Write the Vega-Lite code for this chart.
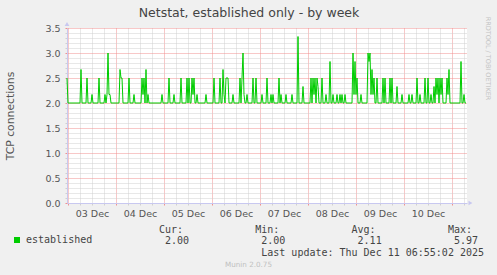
{
  "$schema": "https://vega.github.io/schema/vega-lite/v6.json",
  "width": 400,
  "height": 175,
  "autosize": "none",
  "padding": {"left": 67, "top": 28, "right": 30, "bottom": 72},
  "background": "#f0f0f0",
  "config": {
    "view": {"fill": "#ffffff", "stroke": null},
    "axis": {"labelFont": "DejaVu Sans", "titleFont": "DejaVu Sans"}
  },
  "title": {
    "text": "Netstat, established only - by week",
    "font": "DejaVu Sans",
    "fontSize": 12.5,
    "fontWeight": "normal",
    "color": "#444444",
    "anchor": "middle",
    "dx": -18,
    "dy": 3,
    "offset": 0
  },
  "data": {
    "values": [
      {"t": "2025-12-02T23:30", "v": 2.5},
      {"t": "2025-12-03T00:00", "v": 2},
      {"t": "2025-12-03T06:00", "v": 2},
      {"t": "2025-12-03T06:30", "v": 2.67},
      {"t": "2025-12-03T07:00", "v": 2},
      {"t": "2025-12-03T09:00", "v": 2},
      {"t": "2025-12-03T09:30", "v": 2.5},
      {"t": "2025-12-03T10:00", "v": 2},
      {"t": "2025-12-03T11:30", "v": 2},
      {"t": "2025-12-03T12:00", "v": 2.17},
      {"t": "2025-12-03T12:30", "v": 2},
      {"t": "2025-12-03T15:00", "v": 2},
      {"t": "2025-12-03T15:30", "v": 2.5},
      {"t": "2025-12-03T16:00", "v": 2},
      {"t": "2025-12-03T18:00", "v": 2},
      {"t": "2025-12-03T18:30", "v": 2.17},
      {"t": "2025-12-03T19:00", "v": 2},
      {"t": "2025-12-03T19:30", "v": 2.17},
      {"t": "2025-12-03T20:00", "v": 3},
      {"t": "2025-12-03T20:30", "v": 2.17},
      {"t": "2025-12-03T21:00", "v": 2.17},
      {"t": "2025-12-03T21:30", "v": 2},
      {"t": "2025-12-04T01:30", "v": 2},
      {"t": "2025-12-04T02:00", "v": 2.67},
      {"t": "2025-12-04T02:30", "v": 2.5},
      {"t": "2025-12-04T03:00", "v": 2.5},
      {"t": "2025-12-04T03:30", "v": 2},
      {"t": "2025-12-04T06:00", "v": 2},
      {"t": "2025-12-04T06:30", "v": 2.5},
      {"t": "2025-12-04T07:00", "v": 2},
      {"t": "2025-12-04T08:30", "v": 2},
      {"t": "2025-12-04T09:00", "v": 2.17},
      {"t": "2025-12-04T09:30", "v": 2},
      {"t": "2025-12-04T12:30", "v": 2},
      {"t": "2025-12-04T13:00", "v": 2.5},
      {"t": "2025-12-04T13:30", "v": 2.17},
      {"t": "2025-12-04T14:00", "v": 2.5},
      {"t": "2025-12-04T14:30", "v": 2},
      {"t": "2025-12-04T15:00", "v": 2.67},
      {"t": "2025-12-04T15:30", "v": 2},
      {"t": "2025-12-04T16:00", "v": 2.17},
      {"t": "2025-12-04T16:30", "v": 2},
      {"t": "2025-12-04T22:30", "v": 2},
      {"t": "2025-12-04T23:00", "v": 2.17},
      {"t": "2025-12-04T23:30", "v": 2},
      {"t": "2025-12-05T02:00", "v": 2},
      {"t": "2025-12-05T02:30", "v": 2.5},
      {"t": "2025-12-05T03:00", "v": 2},
      {"t": "2025-12-05T04:30", "v": 2},
      {"t": "2025-12-05T05:00", "v": 2.17},
      {"t": "2025-12-05T05:30", "v": 2},
      {"t": "2025-12-05T08:00", "v": 2},
      {"t": "2025-12-05T08:30", "v": 2.5},
      {"t": "2025-12-05T09:00", "v": 2},
      {"t": "2025-12-05T11:00", "v": 2},
      {"t": "2025-12-05T11:30", "v": 2.5},
      {"t": "2025-12-05T12:00", "v": 2},
      {"t": "2025-12-05T12:30", "v": 2.5},
      {"t": "2025-12-05T13:00", "v": 2},
      {"t": "2025-12-05T13:30", "v": 2},
      {"t": "2025-12-05T14:00", "v": 2.5},
      {"t": "2025-12-05T14:30", "v": 2.17},
      {"t": "2025-12-05T15:00", "v": 2.5},
      {"t": "2025-12-05T15:30", "v": 2},
      {"t": "2025-12-05T16:00", "v": 2},
      {"t": "2025-12-05T16:30", "v": 2.17},
      {"t": "2025-12-05T17:00", "v": 2},
      {"t": "2025-12-05T20:30", "v": 2},
      {"t": "2025-12-05T21:00", "v": 2.17},
      {"t": "2025-12-05T21:30", "v": 2},
      {"t": "2025-12-06T00:30", "v": 2},
      {"t": "2025-12-06T01:00", "v": 2.5},
      {"t": "2025-12-06T01:30", "v": 2},
      {"t": "2025-12-06T03:30", "v": 2},
      {"t": "2025-12-06T04:00", "v": 2.5},
      {"t": "2025-12-06T04:30", "v": 2},
      {"t": "2025-12-06T05:00", "v": 2},
      {"t": "2025-12-06T05:30", "v": 2.67},
      {"t": "2025-12-06T06:00", "v": 2.17},
      {"t": "2025-12-06T06:30", "v": 2},
      {"t": "2025-12-06T07:00", "v": 2.5},
      {"t": "2025-12-06T07:30", "v": 2.5},
      {"t": "2025-12-06T08:00", "v": 2.5},
      {"t": "2025-12-06T08:30", "v": 2},
      {"t": "2025-12-06T10:00", "v": 2},
      {"t": "2025-12-06T10:30", "v": 2.17},
      {"t": "2025-12-06T11:00", "v": 2},
      {"t": "2025-12-06T13:30", "v": 2},
      {"t": "2025-12-06T14:00", "v": 2.5},
      {"t": "2025-12-06T14:30", "v": 2},
      {"t": "2025-12-06T15:00", "v": 2.5},
      {"t": "2025-12-06T15:30", "v": 3},
      {"t": "2025-12-06T16:00", "v": 2.17},
      {"t": "2025-12-06T16:30", "v": 2},
      {"t": "2025-12-06T17:00", "v": 2},
      {"t": "2025-12-06T17:30", "v": 2.17},
      {"t": "2025-12-06T18:00", "v": 2},
      {"t": "2025-12-06T20:00", "v": 2},
      {"t": "2025-12-06T20:30", "v": 2.5},
      {"t": "2025-12-06T21:00", "v": 2},
      {"t": "2025-12-06T21:30", "v": 2},
      {"t": "2025-12-06T22:00", "v": 2.5},
      {"t": "2025-12-06T22:30", "v": 2},
      {"t": "2025-12-07T00:30", "v": 2},
      {"t": "2025-12-07T01:00", "v": 2.17},
      {"t": "2025-12-07T01:30", "v": 2},
      {"t": "2025-12-07T03:00", "v": 2},
      {"t": "2025-12-07T03:30", "v": 2.5},
      {"t": "2025-12-07T04:00", "v": 2},
      {"t": "2025-12-07T05:00", "v": 2},
      {"t": "2025-12-07T05:30", "v": 2.17},
      {"t": "2025-12-07T06:00", "v": 2},
      {"t": "2025-12-07T06:30", "v": 2.17},
      {"t": "2025-12-07T07:00", "v": 2},
      {"t": "2025-12-07T09:00", "v": 2},
      {"t": "2025-12-07T09:30", "v": 2.5},
      {"t": "2025-12-07T10:00", "v": 2},
      {"t": "2025-12-07T10:30", "v": 2.17},
      {"t": "2025-12-07T11:00", "v": 2},
      {"t": "2025-12-07T12:30", "v": 2},
      {"t": "2025-12-07T13:00", "v": 2.17},
      {"t": "2025-12-07T13:30", "v": 2},
      {"t": "2025-12-07T15:30", "v": 2},
      {"t": "2025-12-07T16:00", "v": 2.17},
      {"t": "2025-12-07T16:30", "v": 2},
      {"t": "2025-12-07T18:30", "v": 2},
      {"t": "2025-12-07T19:00", "v": 3.33},
      {"t": "2025-12-07T19:30", "v": 2},
      {"t": "2025-12-07T21:00", "v": 2},
      {"t": "2025-12-07T21:30", "v": 2.33},
      {"t": "2025-12-07T22:00", "v": 2},
      {"t": "2025-12-08T01:00", "v": 2},
      {"t": "2025-12-08T01:30", "v": 2.5},
      {"t": "2025-12-08T02:00", "v": 2},
      {"t": "2025-12-08T02:30", "v": 2.5},
      {"t": "2025-12-08T03:00", "v": 2.17},
      {"t": "2025-12-08T03:30", "v": 2.5},
      {"t": "2025-12-08T04:00", "v": 2},
      {"t": "2025-12-08T04:30", "v": 2.5},
      {"t": "2025-12-08T05:00", "v": 2.33},
      {"t": "2025-12-08T05:30", "v": 2},
      {"t": "2025-12-08T06:30", "v": 2},
      {"t": "2025-12-08T07:00", "v": 2.5},
      {"t": "2025-12-08T07:30", "v": 2},
      {"t": "2025-12-08T08:30", "v": 2},
      {"t": "2025-12-08T09:00", "v": 2.17},
      {"t": "2025-12-08T09:30", "v": 2},
      {"t": "2025-12-08T10:30", "v": 2},
      {"t": "2025-12-08T11:00", "v": 2.83},
      {"t": "2025-12-08T11:30", "v": 2},
      {"t": "2025-12-08T12:00", "v": 2},
      {"t": "2025-12-08T12:30", "v": 2.17},
      {"t": "2025-12-08T13:00", "v": 2},
      {"t": "2025-12-08T14:00", "v": 2},
      {"t": "2025-12-08T14:30", "v": 2.17},
      {"t": "2025-12-08T15:00", "v": 2},
      {"t": "2025-12-08T15:30", "v": 2},
      {"t": "2025-12-08T16:00", "v": 2.17},
      {"t": "2025-12-08T16:30", "v": 2},
      {"t": "2025-12-08T17:00", "v": 2.17},
      {"t": "2025-12-08T17:30", "v": 2},
      {"t": "2025-12-08T18:00", "v": 2},
      {"t": "2025-12-08T18:30", "v": 2.17},
      {"t": "2025-12-08T19:00", "v": 2},
      {"t": "2025-12-08T22:00", "v": 2},
      {"t": "2025-12-08T22:30", "v": 3},
      {"t": "2025-12-08T23:00", "v": 2.17},
      {"t": "2025-12-08T23:30", "v": 2.83},
      {"t": "2025-12-09T00:00", "v": 2.17},
      {"t": "2025-12-09T00:30", "v": 2.5},
      {"t": "2025-12-09T01:00", "v": 2},
      {"t": "2025-12-09T02:00", "v": 2},
      {"t": "2025-12-09T02:30", "v": 2.17},
      {"t": "2025-12-09T03:00", "v": 2},
      {"t": "2025-12-09T05:30", "v": 2},
      {"t": "2025-12-09T06:00", "v": 3},
      {"t": "2025-12-09T06:30", "v": 2.83},
      {"t": "2025-12-09T07:00", "v": 3},
      {"t": "2025-12-09T07:30", "v": 2.17},
      {"t": "2025-12-09T08:00", "v": 2.67},
      {"t": "2025-12-09T08:30", "v": 2.17},
      {"t": "2025-12-09T09:00", "v": 2.5},
      {"t": "2025-12-09T09:30", "v": 2},
      {"t": "2025-12-09T10:00", "v": 2},
      {"t": "2025-12-09T10:30", "v": 2.5},
      {"t": "2025-12-09T11:00", "v": 2},
      {"t": "2025-12-09T13:00", "v": 2},
      {"t": "2025-12-09T13:30", "v": 2.5},
      {"t": "2025-12-09T14:00", "v": 2},
      {"t": "2025-12-09T14:30", "v": 2.5},
      {"t": "2025-12-09T15:00", "v": 2},
      {"t": "2025-12-09T16:30", "v": 2},
      {"t": "2025-12-09T17:00", "v": 2.5},
      {"t": "2025-12-09T17:30", "v": 2},
      {"t": "2025-12-09T18:00", "v": 2.5},
      {"t": "2025-12-09T18:30", "v": 2},
      {"t": "2025-12-09T20:00", "v": 2},
      {"t": "2025-12-09T20:30", "v": 2.33},
      {"t": "2025-12-09T21:00", "v": 2},
      {"t": "2025-12-09T22:30", "v": 2},
      {"t": "2025-12-09T23:00", "v": 2.17},
      {"t": "2025-12-09T23:30", "v": 2},
      {"t": "2025-12-10T02:00", "v": 2},
      {"t": "2025-12-10T02:30", "v": 2.17},
      {"t": "2025-12-10T03:00", "v": 2},
      {"t": "2025-12-10T03:30", "v": 2},
      {"t": "2025-12-10T04:00", "v": 2.17},
      {"t": "2025-12-10T04:30", "v": 2},
      {"t": "2025-12-10T06:00", "v": 2},
      {"t": "2025-12-10T06:30", "v": 2.5},
      {"t": "2025-12-10T07:00", "v": 2},
      {"t": "2025-12-10T07:30", "v": 2},
      {"t": "2025-12-10T08:00", "v": 2.17},
      {"t": "2025-12-10T08:30", "v": 2},
      {"t": "2025-12-10T10:00", "v": 2},
      {"t": "2025-12-10T10:30", "v": 2.5},
      {"t": "2025-12-10T11:00", "v": 2},
      {"t": "2025-12-10T11:30", "v": 2},
      {"t": "2025-12-10T12:00", "v": 2.5},
      {"t": "2025-12-10T12:30", "v": 2},
      {"t": "2025-12-10T13:00", "v": 2},
      {"t": "2025-12-10T13:30", "v": 2.17},
      {"t": "2025-12-10T14:00", "v": 2},
      {"t": "2025-12-10T14:30", "v": 2},
      {"t": "2025-12-10T15:00", "v": 2.33},
      {"t": "2025-12-10T15:30", "v": 2},
      {"t": "2025-12-10T16:00", "v": 2.5},
      {"t": "2025-12-10T16:30", "v": 2.17},
      {"t": "2025-12-10T17:00", "v": 2.5},
      {"t": "2025-12-10T17:30", "v": 2},
      {"t": "2025-12-10T18:00", "v": 2.5},
      {"t": "2025-12-10T18:30", "v": 2.17},
      {"t": "2025-12-10T19:00", "v": 2.5},
      {"t": "2025-12-10T19:30", "v": 2},
      {"t": "2025-12-10T21:00", "v": 2},
      {"t": "2025-12-10T21:30", "v": 2.5},
      {"t": "2025-12-10T22:00", "v": 2.17},
      {"t": "2025-12-10T22:30", "v": 2.67},
      {"t": "2025-12-10T23:00", "v": 2},
      {"t": "2025-12-11T04:00", "v": 2},
      {"t": "2025-12-11T04:30", "v": 2.83},
      {"t": "2025-12-11T05:00", "v": 2},
      {"t": "2025-12-11T05:30", "v": 2},
      {"t": "2025-12-11T06:00", "v": 2.17},
      {"t": "2025-12-11T06:30", "v": 2},
      {"t": "2025-12-11T07:00", "v": 2}
    ]
  },
  "layer": [
    {
      "mark": {"type": "line", "strokeWidth": 1, "interpolate": "linear"},
      "encoding": {
        "x": {
          "field": "t",
          "type": "temporal",
          "scale": {
            "domain": [
              {"year": 2025, "month": 12, "date": 2, "hours": 23, "minutes": 30},
              {"year": 2025, "month": 12, "date": 11, "hours": 7, "minutes": 30}
            ],
            "nice": false
          },
          "axis": {
            "orient": "bottom",
            "values": [
              {"year": 2025, "month": 12, "date": 3, "hours": 0},
              {"year": 2025, "month": 12, "date": 3, "hours": 6},
              {"year": 2025, "month": 12, "date": 3, "hours": 12},
              {"year": 2025, "month": 12, "date": 3, "hours": 18},
              {"year": 2025, "month": 12, "date": 4, "hours": 0},
              {"year": 2025, "month": 12, "date": 4, "hours": 6},
              {"year": 2025, "month": 12, "date": 4, "hours": 12},
              {"year": 2025, "month": 12, "date": 4, "hours": 18},
              {"year": 2025, "month": 12, "date": 5, "hours": 0},
              {"year": 2025, "month": 12, "date": 5, "hours": 6},
              {"year": 2025, "month": 12, "date": 5, "hours": 12},
              {"year": 2025, "month": 12, "date": 5, "hours": 18},
              {"year": 2025, "month": 12, "date": 6, "hours": 0},
              {"year": 2025, "month": 12, "date": 6, "hours": 6},
              {"year": 2025, "month": 12, "date": 6, "hours": 12},
              {"year": 2025, "month": 12, "date": 6, "hours": 18},
              {"year": 2025, "month": 12, "date": 7, "hours": 0},
              {"year": 2025, "month": 12, "date": 7, "hours": 6},
              {"year": 2025, "month": 12, "date": 7, "hours": 12},
              {"year": 2025, "month": 12, "date": 7, "hours": 18},
              {"year": 2025, "month": 12, "date": 8, "hours": 0},
              {"year": 2025, "month": 12, "date": 8, "hours": 6},
              {"year": 2025, "month": 12, "date": 8, "hours": 12},
              {"year": 2025, "month": 12, "date": 8, "hours": 18},
              {"year": 2025, "month": 12, "date": 9, "hours": 0},
              {"year": 2025, "month": 12, "date": 9, "hours": 6},
              {"year": 2025, "month": 12, "date": 9, "hours": 12},
              {"year": 2025, "month": 12, "date": 9, "hours": 18},
              {"year": 2025, "month": 12, "date": 10, "hours": 0},
              {"year": 2025, "month": 12, "date": 10, "hours": 6},
              {"year": 2025, "month": 12, "date": 10, "hours": 12},
              {"year": 2025, "month": 12, "date": 10, "hours": 18},
              {"year": 2025, "month": 12, "date": 11, "hours": 0},
              {"year": 2025, "month": 12, "date": 11, "hours": 6}
            ],
            "grid": true,
            "gridColor": {"condition": {"test": "hours(datum.value) == 0", "value": "#f09090"}, "value": "#d0d0d0"},
            "gridDash": [1, 1],
            "domainColor": "#c8c8f0",
            "tickSize": 2,
            "tickColor": {"condition": {"test": "hours(datum.value) == 0", "value": "#f09090"}, "value": "#d0d0d0"},
            "labelExpr": "hours(datum.value) == 12 ? timeFormat(datum.value, '%d %b') : ''",
            "labelFontSize": 9.5,
            "labelColor": "#555555",
            "labelPadding": 3,
            "labelOverlap": false,
            "labelFlush": false,
            "title": [
              "\u200b\u00a0\u00a0\u00a0\u00a0\u00a0\u00a0\u00a0\u00a0\u00a0\u00a0Cur:\u00a0\u00a0\u00a0\u00a0\u00a0\u00a0\u00a0\u00a0\u00a0\u00a0\u00a0\u00a0Min:\u00a0\u00a0\u00a0\u00a0\u00a0\u00a0\u00a0\u00a0\u00a0\u00a0\u00a0\u00a0Avg:\u00a0\u00a0\u00a0\u00a0\u00a0\u00a0\u00a0\u00a0\u00a0\u00a0\u00a0\u00a0Max:",
              "\u200b\u00a0\u00a0\u00a0\u00a0\u00a0\u00a0\u00a0\u00a0\u00a0\u00a0\u00a02.00\u00a0\u00a0\u00a0\u00a0\u00a0\u00a0\u00a0\u00a0\u00a0\u00a0\u00a0\u00a02.00\u00a0\u00a0\u00a0\u00a0\u00a0\u00a0\u00a0\u00a0\u00a0\u00a0\u00a0\u00a02.11\u00a0\u00a0\u00a0\u00a0\u00a0\u00a0\u00a0\u00a0\u00a0\u00a0\u00a0\u00a05.97",
              "\u200b\u00a0\u00a0\u00a0\u00a0\u00a0\u00a0\u00a0\u00a0\u00a0\u00a0\u00a0\u00a0\u00a0\u00a0\u00a0\u00a0\u00a0\u00a0\u00a0\u00a0\u00a0\u00a0\u00a0\u00a0\u00a0\u00a0\u00a0Last update: Thu Dec 11 06:55:02 2025"
            ],
            "titleFont": "DejaVu Sans Mono",
            "titleFontSize": 10,
            "titleFontWeight": "normal",
            "titleColor": "#444444",
            "titleAlign": "left",
            "titleBaseline": "alphabetic",
            "titleX": 31.2,
            "titleY": 29,
            "titleLineHeight": 11.7,
            "titleLimit": 1000
          }
        },
        "y": {
          "field": "v",
          "type": "quantitative",
          "scale": {"domain": [0, 3.5], "nice": false, "zero": false},
          "axis": {
            "orient": "left",
            "values": [0, 0.1, 0.2, 0.3, 0.4, 0.5, 0.6, 0.7, 0.8, 0.9, 1, 1.1, 1.2, 1.3, 1.4, 1.5, 1.6, 1.7, 1.8, 1.9, 2, 2.1, 2.2, 2.3, 2.4, 2.5, 2.6, 2.7, 2.8, 2.9, 3, 3.1, 3.2, 3.3, 3.4, 3.5],
            "grid": true,
            "gridColor": {"condition": {"test": "round(datum.value * 10) % 5 == 0", "value": "#f09090"}, "value": "#d0d0d0"},
            "gridDash": [1, 1],
            "domainColor": "#c8c8f0",
            "tickSize": 2,
            "tickColor": {"condition": {"test": "round(datum.value * 10) % 5 == 0", "value": "#f09090"}, "value": "#d0d0d0"},
            "labelExpr": "round(datum.value * 10) % 5 == 0 ? format(datum.value, '.1f') : ''",
            "labelFontSize": 9.5,
            "labelColor": "#555555",
            "labelPadding": 5,
            "labelOverlap": false,
            "labelFlush": false,
            "title": "TCP connections",
            "titleFontSize": 10.8,
            "titleFontWeight": "normal",
            "titleColor": "#555555",
            "titleAngle": -90,
            "titleX": -57,
            "titleY": 87.5,
            "titleAlign": "center",
            "titleBaseline": "middle"
          }
        },
        "color": {
          "datum": "established",
          "type": "nominal",
          "scale": {"range": ["#00cc00"]},
          "legend": {
            "orient": "none",
            "legendX": -55,
            "legendY": 207,
            "title": null,
            "padding": 0,
            "symbolType": "square",
            "symbolSize": 36,
            "symbolFillColor": "#00cc00",
            "symbolStrokeWidth": 0,
            "labelFont": "DejaVu Sans Mono",
            "labelFontSize": 10,
            "labelColor": "#444444",
            "labelOffset": 4
          }
        }
      }
    },
    {
      "data": {"values": [{}]},
      "mark": {"type": "point", "shape": "triangle-right", "filled": true, "size": 22, "color": "#c8c8f0", "opacity": 1},
      "encoding": {
        "x": {
          "datum": {"year": 2025, "month": 12, "date": 11, "hours": 9, "minutes": 15},
          "type": "temporal",
          "axis": {
            "orient": "top",
            "labels": false,
            "ticks": false,
            "domain": false,
            "grid": false,
            "title": "Munin 2.0.75",
            "titleFont": "DejaVu Sans",
            "titleFontSize": 7.2,
            "titleFontWeight": "normal",
            "titleColor": "#c0c0c0",
            "titleAlign": "center",
            "titleBaseline": "middle",
            "titleX": 181,
            "titleY": 236
          }
        },
        "y": {
          "datum": 0,
          "type": "quantitative",
          "axis": {
            "orient": "right",
            "labels": false,
            "ticks": false,
            "domain": false,
            "grid": false,
            "title": "RRDTOOL / TOBI OETIKER",
            "titleFont": "DejaVu Sans",
            "titleFontSize": 6.5,
            "titleFontWeight": "normal",
            "titleColor": "#c4c4c4",
            "titleAngle": 90,
            "titleAlign": "center",
            "titleBaseline": "middle",
            "titleX": 20,
            "titleY": 30
          }
        }
      }
    },
    {
      "data": {"values": [{}]},
      "mark": {"type": "point", "shape": "triangle-up", "filled": true, "size": 22, "color": "#c8c8f0", "opacity": 1},
      "encoding": {
        "x": {
          "datum": {"year": 2025, "month": 12, "date": 2, "hours": 23, "minutes": 30},
          "type": "temporal",
          "axis": null
        },
        "y": {"datum": 3.58, "type": "quantitative", "axis": null}
      }
    }
  ],
  "resolve": {"axis": {"x": "independent", "y": "independent"}}
}
